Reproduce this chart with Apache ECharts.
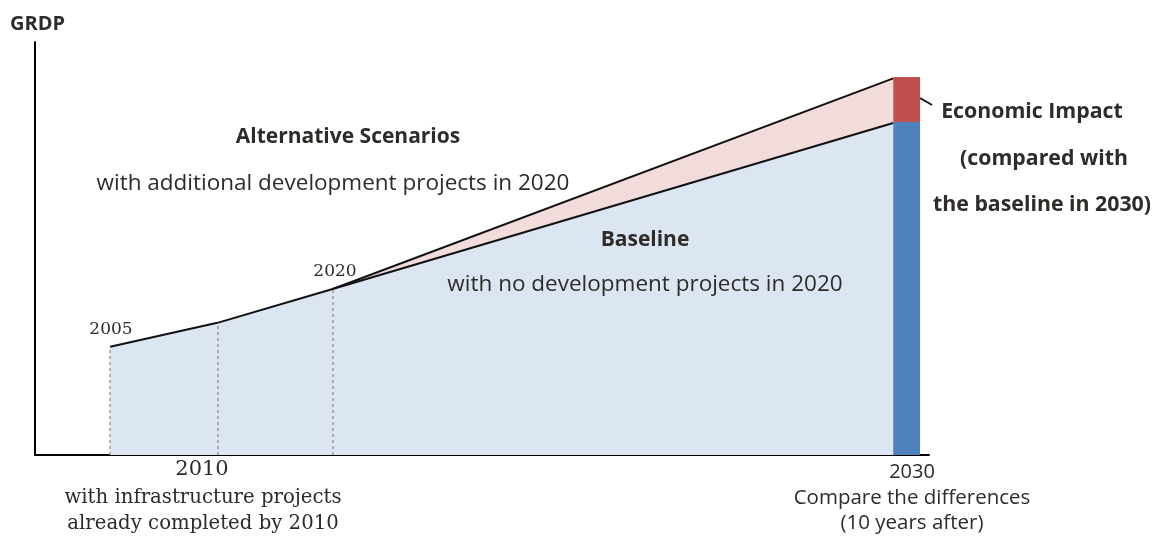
<!DOCTYPE html>
<html><head><meta charset="utf-8">
<script src="https://cdn.jsdelivr.net/npm/echarts@6/dist/echarts.min.js"></script>
<style>html,body{margin:0;padding:0;background:#fff}#c{width:1153px;height:538px}</style>
</head><body><div id="c"></div>
<script>
// Schematic (conceptual) chart: x positions are schematic, not proportional to years
const yearLabels = ['2005', '2010', '2020', '2030'];
const xPos = [8.4, 20.4, 33.3, 96.0];          // schematic x position of each year
const baseline = [26.2, 32.0, 40.2, 80.4];     // baseline GRDP (schematic)
const alternative = [null, null, 40.2, 91.2];  // alternative scenario GRDP
const barRange = [96.0, 99.0];                 // 2030 comparison bar extent on x
const barBaseline = 80.6;
const barAlternative = 91.5;

const chart = echarts.init(document.getElementById('c'));
const sans = '"Open Sans", Lato, sans-serif';
const serif = '"DejaVu Serif", serif';
const txtColor = '#2e2b28';

const baseData = xPos.map((x, i) => [x, baseline[i]]);
const altData = xPos.map((x, i) => [x, alternative[i]]).filter(d => d[1] !== null);

function t(text, x, y, size, bold, font, align) {
  return { type: 'text', x: x, y: y, z: 100, silent: true,
    style: { text: text, font: (bold ? 'bold ' : '') + size + 'px ' + font, fill: txtColor,
      textAlign: align || 'center', textVerticalAlign: 'middle' } };
}

chart.setOption({
  animation: false,
  grid: { left: 35, right: 224, top: 42, bottom: 83 },
  xAxis: { type: 'value', min: 0, max: 100,
    axisLine: { show: true, onZero: false, lineStyle: { color: '#000', width: 2 } },
    axisTick: { show: false }, axisLabel: { show: false }, splitLine: { show: false } },
  yAxis: { type: 'value', min: 0, max: 100,
    axisLine: { show: true, onZero: false, lineStyle: { color: '#000', width: 2 } },
    axisTick: { show: false }, axisLabel: { show: false }, splitLine: { show: false } },
  series: [
    { type: 'line', name: 'Alternative', data: altData, symbol: 'none', z: 2,
      lineStyle: { color: '#111', width: 2 },
      areaStyle: { color: '#f2dcdb', opacity: 1 } },
    { type: 'line', name: 'Baseline', data: baseData, symbol: 'none', z: 3,
      lineStyle: { color: '#111', width: 2 },
      areaStyle: { color: '#dce6f2', opacity: 1 },
      markLine: { silent: true, symbol: 'none', label: { show: false },
        lineStyle: { type: [3, 3], color: '#9a9a9a', width: 1.5 },
        data: [0, 1, 2].map(i => [{ coord: [xPos[i], 0] }, { coord: [xPos[i], baseline[i]] }]) } },
    { type: 'custom', name: 'Compare2030', z: 5,
      data: [[barRange[0], barRange[1], 0, barBaseline],
             [barRange[0], barRange[1], barBaseline, barAlternative]],
      renderItem: function (params, api) {
        const p0 = api.coord([api.value(0), api.value(3)]);
        const p1 = api.coord([api.value(1), api.value(2)]);
        return { type: 'rect', shape: { x: p0[0], y: p0[1], width: p1[0] - p0[0], height: p1[1] - p0[1] },
          style: { fill: params.dataIndex === 0 ? '#4f81bd' : '#c0504d' } };
      } }
  ],
  graphic: [
    t('GRDP', 10, 24, 20, true, sans, 'left'),
    t('Alternative Scenarios', 348, 137, 21, true, sans),
    t('with additional development projects in 2020', 333, 184, 22.5, false, sans),
    t('Baseline', 645, 240, 21, true, sans),
    t('with no development projects in 2020', 645, 285, 22.5, false, sans),
    t('Economic Impact', 1032, 112, 21.3, true, sans),
    t('(compared with', 1044, 159, 21.3, true, sans),
    t('the baseline in 2030)', 1042, 205, 21.3, true, sans),
    { type: 'line', z: 100, silent: true, shape: { x1: 920, y1: 98, x2: 932, y2: 105 }, style: { stroke: '#111', lineWidth: 2 } },
    t(yearLabels[0], 111, 330, 17, false, serif),
    t(yearLabels[2], 335, 272, 17, false, serif),
    t(yearLabels[1], 202, 470, 21, false, serif),
    t('with infrastructure projects', 203, 498, 19.7, false, serif),
    t('already completed by 2010', 203, 524, 19.7, false, serif),
    t(yearLabels[3], 912, 472, 20, false, sans),
    t('Compare the differences', 912, 498, 20.5, false, sans),
    t('(10 years after)', 912, 523, 20.5, false, sans)
  ]
});
</script></body></html>
